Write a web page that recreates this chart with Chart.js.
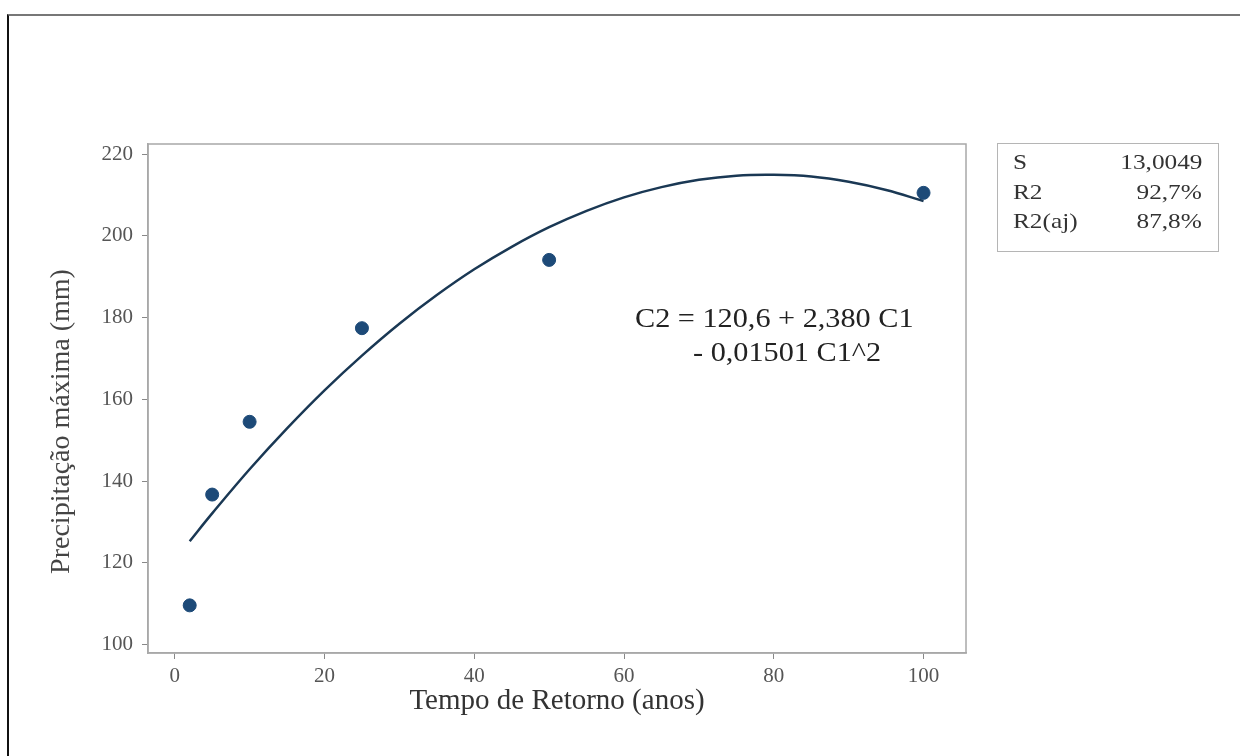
<!DOCTYPE html>
<html>
<head>
<meta charset="utf-8">
<script src="https://cdn.jsdelivr.net/npm/chart.js@4.4.0/dist/chart.umd.min.js"></script>
<style>
  html, body { margin:0; padding:0; background:#fff; }
  #wrap { position:relative; width:1240px; height:756px; overflow:hidden; font-family:"Liberation Serif", "DejaVu Serif", serif; }
  #frame { position:absolute; left:7px; top:14px; right:-10px; bottom:-10px; border-top:2px solid #777; border-left:2px solid #111; }
  canvas { position:absolute; left:0; top:0; }
  .stats { position:absolute; left:997px; top:143px; width:220px; height:107px; border:1.5px solid #b5b5b5; color:#333; font-size:22px; }
  .stats .row { position:absolute; left:15px; right:16px; height:28px; line-height:28px; }
  .stats .row span { position:absolute; display:inline-block; transform:scaleX(1.15); }
  .stats .row span:first-child { left:0; transform-origin:left center; }
  .stats .row span:last-child { right:0; transform-origin:right center; }
  .eq { position:absolute; color:#222; font-size:28px; white-space:nowrap; line-height:34px; transform:scaleX(1.08); transform-origin:left center; }
</style>
</head>
<body>
<div id="wrap">
  <div id="frame"></div>
  <canvas id="c" width="1240" height="756"></canvas>
  <div class="stats">
    <div class="row" style="top:4px"><span>S</span><span>13,0049</span></div>
    <div class="row" style="top:34px"><span>R2</span><span>92,7%</span></div>
    <div class="row" style="top:63px"><span>R2(aj)</span><span>87,8%</span></div>
  </div>
  <div class="eq" style="left:635px; top:301px">C2 = 120,6 + 2,380 C1</div>
  <div class="eq" style="left:693px; top:335px">- 0,01501 C1^2</div>
</div>
<script>
// ── DATA ─────────────────────────────────────────────────────────
const RETURN_YEARS = [2, 5, 10, 25, 50, 100];
const PRECIP_MAX   = [109.6, 136.7, 154.5, 177.4, 194.1, 210.5];

// fitted curve, sampled from the drawn line
const FIT_X = [2, 5, 10, 15, 20, 25, 30, 35, 40, 45, 50, 55, 60, 65, 70, 75, 80, 85, 90, 95, 100];
const FIT_Y = [125.3, 132.1, 142.9, 152.9, 162.2, 170.7, 178.5, 185.5, 191.8, 197.3, 202.1,
               206.1, 209.4, 211.9, 213.7, 214.7, 214.9, 214.5, 213.2, 211.2, 208.5];

const X_TITLE = 'Tempo de Retorno (anos)';
const Y_TITLE = 'Precipitação máxima (mm)';

const FONT = '"Liberation Serif", "DejaVu Serif", serif';
const AXIS_GREY = '#a8a8a8';

// box around the plot area + y title (sits a bit below the axis centre in the original)
const boxPlugin = {
  id: 'plotBox',
  afterDraw(chart) {
    const a = chart.chartArea, ctx = chart.ctx;
    ctx.save();
    ctx.strokeStyle = AXIS_GREY;
    ctx.lineWidth = 1.5;
    ctx.strokeRect(a.left, a.top, a.right - a.left, a.bottom - a.top);

    const cy = (a.top + a.bottom) / 2 + 23;
    ctx.translate(62, cy);
    ctx.rotate(-Math.PI / 2);
    ctx.font = '28px ' + FONT;
    ctx.fillStyle = '#444';
    ctx.textAlign = 'center';
    ctx.textBaseline = 'middle';
    ctx.fillText(Y_TITLE, 0, 0);
    ctx.restore();
  }
};

new Chart(document.getElementById('c'), {
  type: 'scatter',
  data: {
    datasets: [
      {
        label: 'fit',
        data: FIT_X.map((x, i) => ({ x, y: FIT_Y[i] })),
        showLine: true,
        borderColor: '#1a3854',
        borderWidth: 2.5,
        pointRadius: 0,
        tension: 0.4,
        fill: false,
        order: 2
      },
      {
        label: 'dados',
        data: RETURN_YEARS.map((x, i) => ({ x, y: PRECIP_MAX[i] })),
        backgroundColor: '#1d4a78',
        borderColor: '#1d4a78',
        pointRadius: 6.5,
        order: 1
      }
    ]
  },
  options: {
    responsive: false,
    animation: false,
    events: [],
    layout: { padding: { left: 8, top: 144, right: 274, bottom: 0 } },
    plugins: { legend: { display: false }, tooltip: { enabled: false } },
    scales: {
      x: {
        type: 'linear',
        min: -3.57, max: 105.67,
        afterFit: s => { s.height = 103; },
        ticks: { stepSize: 20, includeBounds: false, padding: 5, color: '#555', font: { family: FONT, size: 21 } },
        grid: { drawOnChartArea: false, drawTicks: true, tickLength: 6, color: '#888' },
        border: { color: AXIS_GREY, width: 1.5 },
        title: { display: true, text: X_TITLE, color: '#333', font: { family: FONT, size: 29 }, padding: { top: 0, bottom: 37 } }
      },
      y: {
        type: 'linear',
        min: 97.95, max: 222.45,
        afterFit: s => { s.width = 140; },
        ticks: { stepSize: 20, includeBounds: false, padding: 9, color: '#555', font: { family: FONT, size: 21 } },
        grid: { drawOnChartArea: false, drawTicks: true, tickLength: 6, color: '#888' },
        border: { color: AXIS_GREY, width: 1.5 },
        title: { display: false }
      }
    }
  },
  plugins: [boxPlugin]
});
</script>
</body>
</html>
